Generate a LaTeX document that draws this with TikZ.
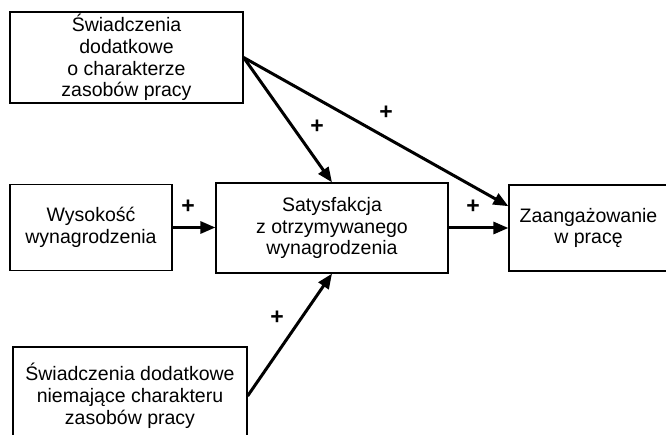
\documentclass[tikz,border=0pt]{standalone}
\usepackage{fontspec}
\setmainfont{Liberation Sans}
\usetikzlibrary{arrows.meta,calc}
\begin{document}
\begin{tikzpicture}[x=1pt,y=-1pt,
  box/.style={draw,line width=1.2pt,inner sep=0pt,align=center,
    font=\fontsize{19.5}{21.8}\selectfont},
  conn/.style={line width=3pt,-{Triangle[length=15pt,width=12pt]}},
  sign/.style={font=\fontsize{23}{24}\selectfont\bfseries,inner sep=0pt}]
\useasboundingbox (0,0) rectangle (666,435);
\clip (0,0) rectangle (666,435);
\node[box,minimum width=233pt,minimum height=91pt] (A) at (126.5,57.5)
  {Świadczenia\\dodatkowe\\o charakterze\\zasobów pracy};
\node[box,minimum width=162pt,minimum height=86pt] (B) at (91,227.5)
  {Wysokość\\wynagrodzenia};
\node[box,minimum width=232pt,minimum height=90pt] (C) at (332,228)
  {Satysfakcja\\z otrzymywanego\\wynagrodzenia};
\node[box,minimum width=159pt,minimum height=86pt] (D) at (588.5,228)
  {Zaangażowanie\\w pracę};
\node[box,minimum width=234pt,minimum height=98pt] (E) at (130,396)
  {Świadczenia dodatkowe\\niemające charakteru\\zasobów pracy};
\coordinate (Dw) at ($(D.north west)!0.25!(D.south west)$);
\draw[conn] (A.east) -- (C.north);
\draw[conn] (A.east) -- (Dw);
\draw[conn] (B.east) -- (B.east -| C.west);
\draw[conn] (C.east) -- (C.east -| D.west);
\draw[conn] (E.east) -- (C.south);
\node[sign] (p1) at (317,127) {+};
\node[sign] (p2) at (386,113) {+};
\node[sign] (p3) at (188,207) {+};
\node[sign] (p4) at (473,207) {+};
\node[sign] (p5) at (277,318) {+};
\end{tikzpicture}
\end{document}
